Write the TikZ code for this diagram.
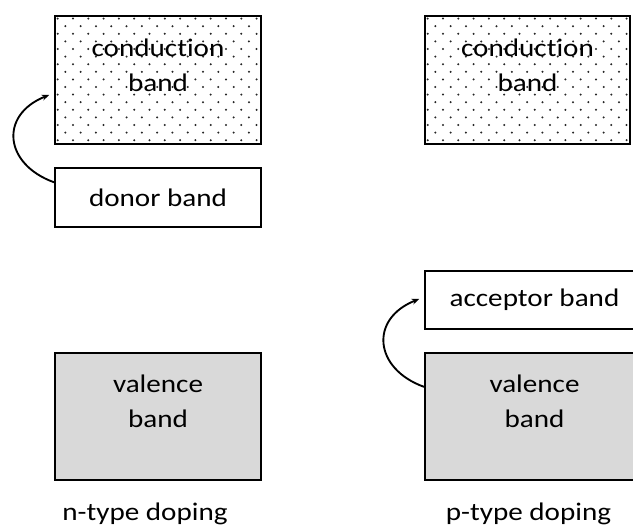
\documentclass[tikz,border=0pt]{standalone}
\usepackage{fontspec}
\setmainfont{Carlito}[FakeStretch=1.15, Ligatures=NoCommon]
\usetikzlibrary{arrows.meta,calc}
\definecolor{bandgray}{RGB}{217,217,217}

\begin{document}
\begin{tikzpicture}[
				x=0.75pt, y=-0.75pt,
				% 能带方框的统一样式
				band/.style={draw, line width=1.4pt, inner sep=0pt},
				% 文字样式
				txt/.style={font=\fontsize{19}{26.5}\selectfont, align=center, inner sep=0pt},
				% 跃迁箭头样式
				jump/.style={-{Stealth[length=5.5pt,width=4.5pt]}, line width=1.4pt, shorten >=4pt},
				% 点阵中的小点
				dotc/.style={fill=black!85}
				]
				
				% ----- 1. 画面范围 -----
				\clip (0,0) rectangle (633,525);
				
				% ----- 2. 左侧: n 型掺杂 -----
				% 导带
				\node[band, minimum width=154.5pt, minimum height=96pt] (cbL) at (158,80) {};
				% 导带内的点阵
				\begin{scope}[shift={(55,16)}]
					\clip (0,0) rectangle (206,128);
					\foreach \r in {0,...,16}{
						\pgfmathsetmacro\dx{mod(\r,2)*7.65}
						\foreach \c in {0,...,13}
							\fill[dotc] ({2.7+\dx+15.3*\c},{2.6+7.6*\r}) circle (0.85pt);
					}
				\end{scope}
				\node[txt] (cbLtxt) at (158,65.5) {conduction\\band};
				
				% 施主能级
				\node[band, txt, minimum width=154.5pt, minimum height=44.25pt] (donor) at (158,197.5) {donor band};
				
				% 价带
				\node[band, fill=bandgray, minimum width=154.5pt, minimum height=95.25pt] (vbL) at (158,416.5) {};
				\node[txt] (vbLtxt) at (158,401) {valence\\band};
				
				% 电子从施主能级跃迁到导带
				\coordinate (jL0) at ($(donor.north west)!0.25!(donor.south west)$);
				\coordinate (jL1) at ($(cbL.north west)!0.6!(cbL.south west)$);
				\draw[jump] (jL0) .. controls +(-50,-18) and +(-55,22) .. (jL1);
				
				% 标题
				\node[txt, anchor=base] (nlab) at (145,520) {n-type doping};
				
				% ----- 3. 右侧: p 型掺杂 -----
				% 导带
				\node[band, minimum width=153.75pt, minimum height=96pt] (cbR) at (527.5,80) {};
				\begin{scope}[shift={(425,16)}]
					\clip (0,0) rectangle (205,128);
					\foreach \r in {0,...,16}{
						\pgfmathsetmacro\dx{mod(\r,2)*7.65}
						\foreach \c in {0,...,13}
							\fill[dotc] ({2.7+\dx+15.3*\c},{2.6+7.6*\r}) circle (0.85pt);
					}
				\end{scope}
				\node[txt] (cbRtxt) at (527.5,65.5) {conduction\\band};
				
				% 受主能级 (右边超出画面)
				\node[band, txt, minimum width=164.25pt, minimum height=43.5pt] (acceptor) at (534.5,300) {acceptor band};
				
				% 价带
				\node[band, fill=bandgray, minimum width=164.25pt, minimum height=95.25pt] (vbR) at (534.5,416.5) {};
				\node[txt] (vbRtxt) at (534.5,401) {valence\\band};
				
				% 电子从价带跃迁到受主能级
				\coordinate (jR0) at ($(vbR.north west)!0.27!(vbR.south west)$);
				\coordinate (jR1) at ($(acceptor.north west)!0.45!(acceptor.south west)$);
				\draw[jump] (jR0) .. controls +(-50,-18) and +(-55,22) .. (jR1);
				
				% 标题
				\node[txt, anchor=base] (plab) at (528.5,520) {p-type doping};
				
			\end{tikzpicture}
\end{document}
